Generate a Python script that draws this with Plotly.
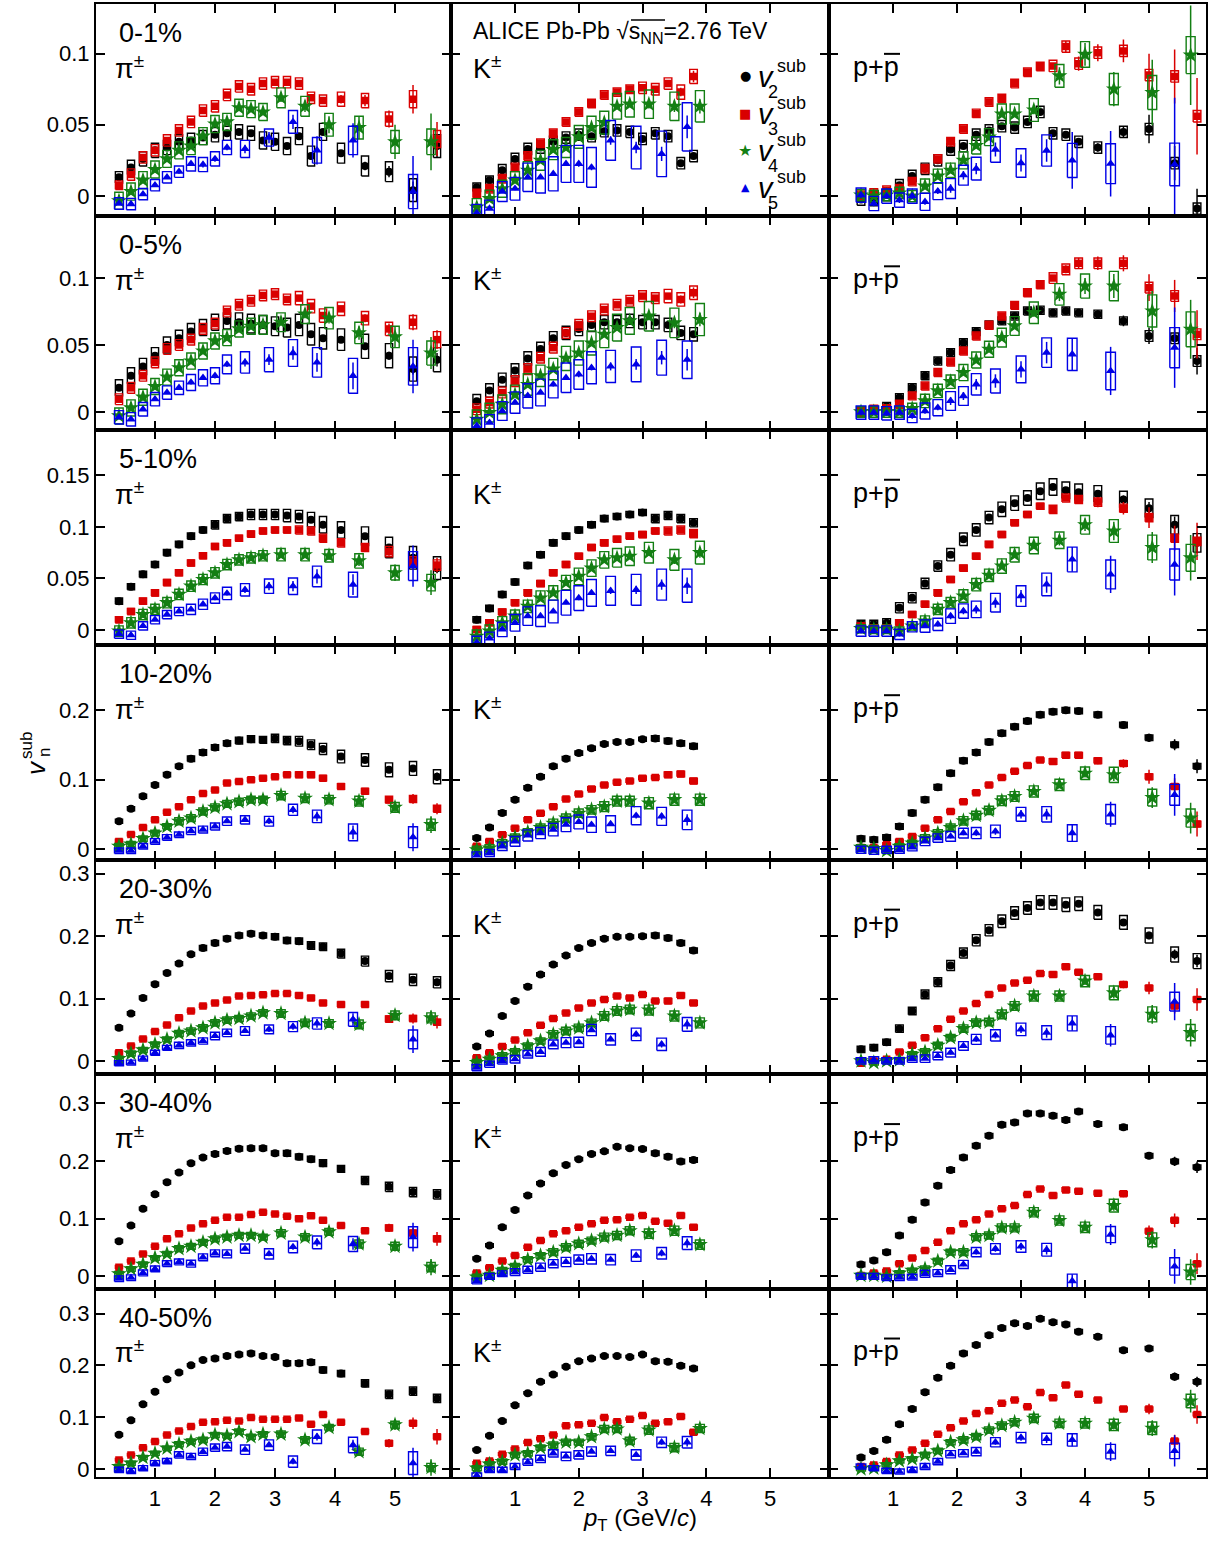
import plotly.graph_objects as go

# ============================ data ============================
CENTRALITY = ["0-1%", "0-5%", "5-10%", "10-20%", "20-30%", "30-40%", "40-50%"]
HARMONICS = [2, 3, 4, 5]
X_TICKS = [1, 2, 3, 4, 5]
X_TICK_TEXT = ["1", "2", "3", "4", "5"]
Y_TICKS = [[0, 0.05, 0.1], [0, 0.05, 0.1], [0, 0.05, 0.1, 0.15], [0, 0.1, 0.2],
           [0, 0.1, 0.2, 0.3], [0, 0.1, 0.2, 0.3], [0, 0.1, 0.2, 0.3]]
Y_TICK_TEXT = [["0", "0.05", "0.1"], ["0", "0.05", "0.1"], ["0", "0.05", "0.1", "0.15"],
               ["0", "0.1", "0.2"], ["0", "0.1", "0.2", "0.3"], ["0", "0.1", "0.2", "0.3"],
               ["0", "0.1", "0.2", "0.3"]]

# pT bin centres (GeV/c)
PT_PI = [0.4, 0.6, 0.8, 1.0, 1.2, 1.4, 1.6, 1.8, 2.0, 2.2, 2.4, 2.6, 2.8, 3.0, 3.2, 3.4, 3.6, 3.8, 4.1, 4.5, 4.9, 5.3, 5.7]
PT_PI_V4 = [0.4, 0.6, 0.8, 1.0, 1.2, 1.4, 1.6, 1.8, 2.0, 2.2, 2.4, 2.6, 2.8, 3.1, 3.5, 3.9, 4.4, 5.0, 5.6]
PT_PI_V5 = [0.4, 0.6, 0.8, 1.0, 1.2, 1.4, 1.6, 1.8, 2.0, 2.2, 2.5, 2.9, 3.3, 3.7, 4.3, 5.3]
PT_K = [0.4, 0.6, 0.8, 1.0, 1.2, 1.4, 1.6, 1.8, 2.0, 2.2, 2.4, 2.6, 2.8, 3.0, 3.2, 3.4, 3.6, 3.8]
PT_K_V4 = [0.4, 0.6, 0.8, 1.0, 1.2, 1.4, 1.6, 1.8, 2.0, 2.2, 2.4, 2.6, 2.8, 3.1, 3.5, 3.9]
PT_K_V5 = [0.4, 0.6, 0.8, 1.0, 1.2, 1.4, 1.6, 1.8, 2.0, 2.2, 2.5, 2.9, 3.3, 3.7]
PT_P = [0.5, 0.7, 0.9, 1.1, 1.3, 1.5, 1.7, 1.9, 2.1, 2.3, 2.5, 2.7, 2.9, 3.1, 3.3, 3.5, 3.7, 3.9, 4.2, 4.6, 5.0, 5.4, 5.75]
PT_P_V4 = [0.5, 0.7, 0.9, 1.1, 1.3, 1.5, 1.7, 1.9, 2.1, 2.3, 2.5, 2.7, 2.9, 3.2, 3.6, 4.0, 4.45, 5.05, 5.65]
PT_P_V5 = [0.5, 0.7, 0.9, 1.1, 1.3, 1.5, 1.7, 1.9, 2.1, 2.3, 2.6, 3.0, 3.4, 3.8, 4.4, 5.4]

# ---- pions: one list per centrality class (rows 0-1% ... 40-50%)
PI_V2 = [
    [0.013, 0.020, 0.026, 0.032, 0.034, 0.038, 0.039, 0.041, 0.043, 0.044, 0.045, 0.044, 0.039, 0.038, 0.035, 0.042, 0.028, 0.045, 0.030, 0.021, 0.017, 0.004, 0.035],
    [0.018, 0.027, 0.034, 0.042, 0.050, 0.055, 0.060, 0.063, 0.067, 0.068, 0.067, 0.066, 0.065, 0.064, 0.063, 0.065, 0.058, 0.055, 0.054, 0.049, 0.042, 0.032, 0.039],
    [0.028, 0.042, 0.054, 0.0635, 0.075, 0.083, 0.091, 0.097, 0.102, 0.108, 0.110, 0.112, 0.112, 0.112, 0.111, 0.110, 0.107, 0.102, 0.097, 0.091, 0.080, 0.070, 0.060],
    [0.040, 0.058, 0.076, 0.092, 0.107, 0.119, 0.130, 0.139, 0.146, 0.152, 0.156, 0.158, 0.157, 0.159, 0.156, 0.155, 0.150, 0.144, 0.133, 0.128, 0.114, 0.116, 0.104],
    [0.053, 0.076, 0.101, 0.123, 0.141, 0.156, 0.171, 0.181, 0.189, 0.196, 0.201, 0.204, 0.201, 0.199, 0.193, 0.192, 0.185, 0.183, 0.172, 0.160, 0.136, 0.130, 0.126],
    [0.061, 0.088, 0.117, 0.142, 0.163, 0.180, 0.196, 0.206, 0.212, 0.217, 0.221, 0.222, 0.222, 0.213, 0.213, 0.207, 0.203, 0.196, 0.186, 0.166, 0.155, 0.146, 0.142],
    [0.066, 0.094, 0.125, 0.149, 0.173, 0.186, 0.200, 0.210, 0.213, 0.218, 0.221, 0.223, 0.218, 0.216, 0.204, 0.204, 0.206, 0.191, 0.184, 0.165, 0.144, 0.150, 0.136],
]
PI_V3 = [
    [0.0075, 0.015, 0.027, 0.032, 0.039, 0.046, 0.052, 0.060, 0.063, 0.071, 0.077, 0.075, 0.079, 0.080, 0.080, 0.079, 0.069, 0.067, 0.068, 0.067, 0.054, 0.068, 0.040],
    [0.0095, 0.018, 0.027, 0.037, 0.047, 0.050, 0.054, 0.062, 0.066, 0.075, 0.080, 0.083, 0.087, 0.088, 0.084, 0.085, 0.079, 0.072, 0.077, 0.070, 0.062, 0.067, 0.054],
    [0.010, 0.018, 0.028, 0.036, 0.046, 0.0555, 0.065, 0.072, 0.081, 0.0845, 0.089, 0.093, 0.096, 0.097, 0.097, 0.097, 0.096, 0.089, 0.0845, 0.080, 0.076, 0.066, 0.063],
    [0.011, 0.021, 0.031, 0.042, 0.053, 0.061, 0.071, 0.080, 0.085, 0.095, 0.097, 0.0995, 0.102, 0.104, 0.107, 0.107, 0.107, 0.102, 0.090, 0.083, 0.071, 0.072, 0.058],
    [0.013, 0.024, 0.035, 0.047, 0.0575, 0.069, 0.080, 0.088, 0.093, 0.0975, 0.104, 0.105, 0.106, 0.108, 0.108, 0.105, 0.101, 0.093, 0.0905, 0.0905, 0.067, 0.068, 0.062],
    [0.016, 0.0265, 0.039, 0.052, 0.065, 0.074, 0.084, 0.091, 0.097, 0.1025, 0.1025, 0.107, 0.111, 0.108, 0.104, 0.100, 0.105, 0.097, 0.088, 0.079, 0.084, 0.075, 0.065],
    [0.017, 0.027, 0.041, 0.053, 0.0655, 0.073, 0.082, 0.090, 0.091, 0.094, 0.0925, 0.099, 0.096, 0.096, 0.096, 0.098, 0.086, 0.105, 0.090, 0.072, 0.0495, 0.088, 0.062],
]
PI_V4 = [
    [-0.0035, 0.003, 0.011, 0.0185, 0.026, 0.032, 0.035, 0.042, 0.0505, 0.052, 0.062, 0.061, 0.059, 0.069, 0.063, 0.050, 0.048, 0.038, 0.038],
    [-0.003, 0.003, 0.011, 0.019, 0.026, 0.033, 0.038, 0.0455, 0.053, 0.0555, 0.062, 0.064, 0.065, 0.067, 0.073, 0.070, 0.059, 0.056, 0.044],
    [-0.001, 0.007, 0.015, 0.020, 0.0265, 0.0345, 0.0425, 0.049, 0.0555, 0.0635, 0.068, 0.070, 0.072, 0.073, 0.073, 0.072, 0.067, 0.0555, 0.046],
    [0.004, 0.007, 0.015, 0.023, 0.0325, 0.040, 0.0445, 0.054, 0.060, 0.065, 0.068, 0.071, 0.071, 0.077, 0.073, 0.071, 0.069, 0.060, 0.035],
    [0.0037, 0.012, 0.0176, 0.0266, 0.0346, 0.044, 0.048, 0.053, 0.061, 0.0655, 0.068, 0.072, 0.077, 0.076, 0.061, 0.060, 0.0586, 0.073, 0.069],
    [0.0046, 0.013, 0.021, 0.032, 0.039, 0.048, 0.052, 0.059, 0.065, 0.068, 0.071, 0.071, 0.068, 0.075, 0.068, 0.077, 0.056, 0.052, 0.016],
    [0.0045, 0.011, 0.022, 0.030, 0.040, 0.0475, 0.053, 0.056, 0.0655, 0.064, 0.072, 0.062, 0.067, 0.067, 0.056, 0.080, 0.033, 0.085, 0.0026],
]
PI_V5 = [
    [-0.0054, -0.0058, 0.0012, 0.0075, 0.013, 0.017, 0.0225, 0.022, 0.026, 0.034, 0.033, 0.041, 0.052, 0.032, 0.039, 0.003],
    [-0.004, -0.0055, 0.002, 0.0095, 0.0145, 0.018, 0.022, 0.0255, 0.027, 0.0355, 0.037, 0.039, 0.044, 0.037, 0.027, 0.034],
    [-0.004, -0.005, 0.004, 0.010, 0.015, 0.018, 0.020, 0.025, 0.031, 0.0355, 0.039, 0.0425, 0.0425, 0.052, 0.044, 0.062],
    [-0.0024, -0.0024, 0.004, 0.011, 0.0167, 0.0206, 0.026, 0.028, 0.0325, 0.040, 0.042, 0.040, 0.0565, 0.047, 0.024, 0.017],
    [-0.0037, -0.0027, 0.0037, 0.013, 0.021, 0.025, 0.029, 0.032, 0.040, 0.045, 0.048, 0.0505, 0.055, 0.060, 0.0665, 0.0346],
    [-0.004, -0.0023, 0.006, 0.013, 0.022, 0.025, 0.022, 0.033, 0.040, 0.039, 0.048, 0.039, 0.051, 0.059, 0.056, 0.068],
    [-0.002, -0.004, 0.0013, 0.011, 0.015, 0.027, 0.024, 0.033, 0.041, 0.043, 0.037, 0.046, 0.014, 0.062, 0.046, 0.011],
]
PI_V2_STAT_A = [.0005, .0005, .0005, .0005, .0005, .0005, .0005, .0005, .0005, .0005, .001, .001, .001, .001, .001, .0015, .0015, .002, .002, .003, .004, .006, .008]
PI_V2_STAT_B = [.0005, .0005, .0005, .0005, .0005, .0005, .0005, .0005, .0005, .0005, .0005, .0005, .001, .001, .001, .001, .001, .0015, .0015, .002, .003, .004, .005]
PI_V2_STAT_C = [.0005, .0005, .0005, .0005, .0005, .0005, .0005, .0005, .0005, .0005, .0005, .0005, .001, .001, .001, .001, .0015, .0015, .002, .003, .004, .005, .006]
PI_V2_STAT = [PI_V2_STAT_A, PI_V2_STAT_B, PI_V2_STAT_B, PI_V2_STAT_C, PI_V2_STAT_C, PI_V2_STAT_C, PI_V2_STAT_C]
PI_V2_SYS = [
    [.004, .005, .005, .005, .005, .005, .005, .005, .005, .005, .005, .005, .006, .006, .006, .006, .007, .006, .007, .007, .007, .008, .008],
    [.006, .006, .006, .006, .006, .006, .006, .006, .006, .006, .007, .007, .007, .007, .007, .008, .008, .008, .008, .009, .009, .009, .009],
    [.003, .003, .003, .003, .003, .003, .003, .003, .004, .004, .004, .005, .005, .005, .006, .006, .007, .008, .008, .009, .010, .011, .011],
    [.003, .003, .003, .003, .003, .003, .004, .004, .004, .004, .005, .005, .005, .006, .006, .007, .007, .008, .009, .009, .010, .010, .010],
    [.003, .003, .003, .003, .003, .003, .003, .004, .004, .004, .004, .004, .004, .005, .005, .005, .006, .006, .007, .008, .009, .009, .009],
    [.003, .003, .003, .003, .003, .003, .003, .003, .004, .004, .004, .004, .004, .004, .005, .005, .005, .006, .006, .007, .008, .008, .008],
    [.003, .003, .003, .003, .003, .003, .003, .003, .004, .004, .004, .004, .004, .004, .005, .005, .005, .006, .006, .007, .008, .008, .008],
]
PI_V3_STAT = [
    [.0005, .0005, .0005, .0005, .0005, .0005, .0005, .001, .001, .001, .001, .001, .001, .0015, .0015, .002, .002, .002, .003, .004, .006, .010, .012],
    [.0005, .0005, .0005, .0005, .0005, .0005, .0005, .0005, .001, .001, .001, .001, .001, .001, .0015, .0015, .002, .002, .002, .003, .004, .006, .007],
    [.0005, .0005, .0005, .0005, .0005, .0005, .0005, .0005, .001, .001, .001, .001, .001, .001, .0015, .0015, .002, .002, .002, .003, .004, .006, .007],
    [.0005, .0005, .0005, .0005, .0005, .0005, .0005, .001, .001, .001, .001, .001, .001, .0015, .0015, .002, .002, .002, .003, .004, .005, .007, .008],
    [.0005, .0005, .0005, .0005, .0005, .0005, .0005, .001, .001, .001, .001, .001, .001, .0015, .0015, .002, .002, .002, .003, .004, .006, .008, .010],
    [.0005, .0005, .0005, .0005, .0005, .0005, .0005, .001, .001, .001, .001, .001, .001, .0015, .0015, .002, .002, .002, .003, .005, .007, .009, .012],
    [.0005, .0005, .0005, .0005, .0005, .0005, .0005, .001, .001, .001, .001, .001, .001, .0015, .0015, .002, .002, .002, .004, .006, .008, .011, .015],
]
PI_V3_SYS_A = [.003, .004, .004, .004, .004, .004, .004, .004, .004, .004, .004, .004, .004, .004, .004, .004, .004, .004, .005, .005, .005, .006, .006]
PI_V3_SYS_B = [.004, .004, .004, .004, .004, .004, .004, .004, .004, .004, .004, .004, .004, .004, .004, .005, .005, .005, .005, .005, .005, .005, .006]
PI_V3_SYS_C = [.003, .003, .003, .003, .003, .003, .003, .003, .003, .003, .003, .003, .003, .003, .003, .004, .004, .004, .004, .004, .005, .005, .005]
PI_V3_SYS = [PI_V3_SYS_A, PI_V3_SYS_B, PI_V3_SYS_C, PI_V3_SYS_C, PI_V3_SYS_C, PI_V3_SYS_C, PI_V3_SYS_C]
PI_V4_STAT = [
    [.001, .001, .001, .001, .001, .001, .001, .001, .001, .0015, .0015, .002, .002, .003, .004, .006, .008, .012, .020],
    [.0005, .0005, .0005, .0005, .0005, .001, .001, .001, .001, .001, .001, .0015, .0015, .002, .003, .004, .005, .008, .012],
    [.0005, .0005, .0005, .0005, .0005, .001, .001, .001, .001, .001, .001, .0015, .0015, .002, .003, .004, .005, .008, .012],
    [.0005, .0005, .0005, .0005, .0005, .001, .001, .001, .001, .001, .001, .0015, .0015, .002, .003, .004, .006, .008, .012],
    [.0005, .0005, .0005, .0005, .0005, .001, .001, .001, .001, .001, .001, .0015, .0015, .002, .003, .004, .006, .008, .012],
    [.0005, .0005, .0005, .0005, .0005, .001, .001, .001, .001, .001, .001, .0015, .0015, .002, .003, .005, .006, .009, .014],
    [.0005, .0005, .0005, .0005, .0005, .001, .001, .001, .001, .001, .001, .0015, .002, .003, .004, .005, .008, .010, .016],
]
PI_V4_SYS = [
    [.006, .006, .006, .006, .006, .006, .006, .006, .006, .006, .006, .006, .006, .007, .007, .008, .008, .008, .009],
    [.006, .006, .006, .006, .006, .006, .006, .006, .006, .006, .006, .006, .007, .007, .007, .008, .008, .008, .009],
    [.005, .005, .005, .005, .005, .005, .005, .005, .005, .005, .005, .005, .005, .006, .006, .006, .007, .007, .008],
    [.004, .004, .004, .004, .004, .005, .005, .005, .005, .005, .005, .005, .005, .006, .006, .006, .007, .007, .008],
    [.004, .004, .004, .004, .004, .005, .005, .005, .005, .005, .005, .005, .005, .006, .006, .006, .007, .007, .008],
    [.004, .004, .004, .004, .004, .005, .005, .005, .005, .005, .005, .005, .005, .006, .006, .006, .007, .007, .008],
    [.004, .004, .004, .004, .004, .005, .005, .005, .005, .005, .005, .005, .005, .006, .006, .006, .007, .007, .008],
]
PI_V5_STAT = [
    [.001, .001, .001, .001, .001, .0015, .0015, .002, .002, .002, .003, .004, .005, .010, .012, .025],
    [.001, .001, .001, .001, .001, .001, .0015, .0015, .002, .002, .003, .004, .005, .007, .010, .020],
    [.001, .001, .001, .001, .001, .001, .0015, .0015, .002, .002, .003, .004, .005, .007, .010, .020],
    [.001, .001, .001, .001, .001, .001, .0015, .0015, .002, .002, .003, .004, .005, .007, .010, .020],
    [.001, .001, .001, .001, .001, .001, .0015, .0015, .002, .002, .003, .004, .005, .007, .010, .022],
    [.001, .001, .001, .001, .001, .001, .0015, .0015, .002, .002, .003, .004, .005, .007, .010, .025],
    [.001, .001, .001, .001, .001, .001, .0015, .0015, .002, .002, .003, .004, .005, .007, .010, .030],
]
PI_V5_SYS = [
    [.004, .004, .004, .004, .004, .004, .005, .005, .005, .005, .006, .006, .008, .009, .010, .012],
    [.005, .005, .005, .005, .005, .005, .006, .006, .006, .007, .008, .009, .010, .011, .013, .014],
    [.004, .004, .004, .004, .004, .004, .005, .005, .005, .006, .006, .007, .008, .010, .012, .014],
    [.004, .004, .004, .004, .004, .004, .005, .005, .005, .006, .006, .007, .008, .009, .012, .015],
    [.004, .004, .004, .004, .004, .005, .005, .005, .006, .006, .007, .007, .008, .009, .011, .015],
    [.005, .005, .005, .005, .005, .005, .006, .006, .006, .007, .008, .009, .010, .011, .013, .018],
    [.005, .005, .005, .005, .005, .006, .006, .007, .007, .008, .009, .010, .011, .013, .015, .022],
]

# ---- kaons
K_V2 = [
    [0.006, 0.011, 0.018, 0.026, 0.033, 0.034, 0.038, 0.041, 0.043, 0.042, 0.0455, 0.046, 0.045, 0.040, 0.044, 0.042, 0.023, 0.028],
    [0.008, 0.016, 0.024, 0.031, 0.040, 0.047, 0.055, 0.059, 0.062, 0.065, 0.067, 0.067, 0.068, 0.067, 0.067, 0.065, 0.059, 0.058],
    [0.010, 0.021, 0.0345, 0.0465, 0.0625, 0.073, 0.0845, 0.091, 0.097, 0.102, 0.108, 0.110, 0.112, 0.114, 0.108, 0.111, 0.108, 0.104],
    [0.016, 0.031, 0.052, 0.071, 0.088, 0.104, 0.119, 0.130, 0.138, 0.145, 0.151, 0.154, 0.154, 0.158, 0.159, 0.1555, 0.152, 0.148],
    [0.023, 0.044, 0.072, 0.096, 0.119, 0.1385, 0.1545, 0.169, 0.181, 0.189, 0.196, 0.199, 0.199, 0.200, 0.201, 0.197, 0.189, 0.177],
    [0.0305, 0.0535, 0.085, 0.115, 0.140, 0.161, 0.1785, 0.193, 0.203, 0.212, 0.2165, 0.2245, 0.222, 0.2205, 0.213, 0.207, 0.199, 0.2015],
    [0.0366, 0.064, 0.0925, 0.123, 0.146, 0.168, 0.182, 0.197, 0.208, 0.213, 0.218, 0.218, 0.216, 0.221, 0.208, 0.207, 0.199, 0.194],
]
K_V3 = [
    [0.0016, 0.005, 0.012, 0.020, 0.028, 0.037, 0.044, 0.052, 0.059, 0.065, 0.071, 0.073, 0.075, 0.076, 0.075, 0.079, 0.073, 0.084],
    [0.002, 0.007, 0.0145, 0.023, 0.032, 0.0405, 0.048, 0.059, 0.065, 0.0715, 0.0765, 0.080, 0.083, 0.0865, 0.085, 0.0865, 0.084, 0.089],
    [0.0006, 0.007, 0.0175, 0.0265, 0.036, 0.045, 0.0555, 0.0635, 0.0715, 0.080, 0.0845, 0.088, 0.091, 0.0925, 0.096, 0.096, 0.097, 0.0935],
    [0.004, 0.011, 0.0205, 0.030, 0.042, 0.0515, 0.061, 0.072, 0.079, 0.0865, 0.092, 0.096, 0.098, 0.102, 0.103, 0.107, 0.108, 0.098],
    [0.005, 0.013, 0.023, 0.0335, 0.045, 0.057, 0.068, 0.077, 0.085, 0.093, 0.0985, 0.104, 0.101, 0.1065, 0.096, 0.096, 0.105, 0.093],
    [0.006, 0.015, 0.0265, 0.036, 0.0505, 0.062, 0.074, 0.079, 0.085, 0.091, 0.097, 0.098, 0.1025, 0.1055, 0.0955, 0.092, 0.1055, 0.085],
    [0.011, 0.015, 0.028, 0.0385, 0.051, 0.058, 0.0655, 0.0835, 0.085, 0.088, 0.099, 0.091, 0.096, 0.103, 0.088, 0.091, 0.101, 0.0705],
]
K_V4 = [
    [-0.008, -0.002, 0.005, 0.011, 0.018, 0.025, 0.0325, 0.034, 0.0415, 0.048, 0.0515, 0.063, 0.0645, 0.0645, 0.063, 0.063],
    [-0.0055, -0.0005, 0.0057, 0.013, 0.0205, 0.027, 0.032, 0.040, 0.044, 0.0515, 0.058, 0.063, 0.068, 0.0715, 0.0665, 0.069],
    [-0.006, -0.001, 0.007, 0.0135, 0.023, 0.031, 0.036, 0.046, 0.052, 0.060, 0.068, 0.070, 0.0715, 0.075, 0.068, 0.075],
    [-0.001, 0.0014, 0.0086, 0.0167, 0.0244, 0.031, 0.037, 0.0445, 0.0515, 0.0565, 0.061, 0.069, 0.069, 0.066, 0.071, 0.071],
    [-0.0027, 0.0027, 0.008, 0.0144, 0.024, 0.032, 0.0425, 0.048, 0.053, 0.061, 0.072, 0.080, 0.0825, 0.0815, 0.072, 0.061],
    [-0.0012, 0.0017, 0.0104, 0.0173, 0.029, 0.036, 0.042, 0.0505, 0.0565, 0.062, 0.068, 0.071, 0.079, 0.074, 0.079, 0.055],
    [0.0013, 0.009, 0.014, 0.027, 0.030, 0.041, 0.046, 0.0515, 0.0515, 0.062, 0.077, 0.077, 0.054, 0.075, 0.041, 0.078],
]
K_V5 = [
    [-0.012, -0.009, 0.003, 0.005, 0.013, 0.013, 0.0155, 0.0225, 0.0225, 0.020, 0.039, 0.034, 0.0295, 0.0485],
    [-0.0104, -0.008, 0.0007, 0.007, 0.012, 0.0145, 0.0205, 0.0255, 0.028, 0.033, 0.034, 0.0355, 0.0405, 0.039],
    [-0.012, -0.008, 0.0006, 0.007, 0.0135, 0.0135, 0.018, 0.0265, 0.031, 0.036, 0.038, 0.039, 0.044, 0.043],
    [-0.009, -0.0057, 0.004, 0.011, 0.0196, 0.023, 0.028, 0.035, 0.039, 0.035, 0.036, 0.048, 0.047, 0.042],
    [-0.0107, -0.0053, 0.0, 0.0027, 0.0107, 0.0144, 0.0266, 0.0293, 0.030, 0.0495, 0.0346, 0.0426, 0.0266, 0.0586],
    [-0.008, 0.0, 0.0046, 0.0075, 0.0115, 0.016, 0.022, 0.025, 0.029, 0.0305, 0.029, 0.036, 0.040, 0.0576],
    [-0.0128, -0.002, -0.002, 0.0045, 0.0128, 0.0193, 0.030, 0.024, 0.027, 0.0334, 0.0347, 0.027, 0.0514, 0.0514],
]
K_V2_STAT_A = [.0005, .0005, .0005, .0005, .0005, .0005, .0005, .0005, .0005, .0005, .0005, .0005, .001, .001, .001, .0015, .002, .002]
K_V2_STAT = [K_V2_STAT_A] * 7
K_V2_SYS_A = [.003, .003, .004, .004, .004, .004, .004, .004, .004, .004, .004, .004, .004, .004, .004, .004, .004, .004]
K_V2_SYS_B = [.005, .005, .005, .005, .005, .005, .005, .005, .005, .005, .005, .005, .005, .005, .005, .005, .005, .005]
K_V2_SYS_C = [.003, .003, .003, .003, .003, .003, .003, .003, .003, .003, .003, .003, .003, .003, .004, .004, .004, .004]
K_V2_SYS = [K_V2_SYS_A, K_V2_SYS_B, K_V2_SYS_C, K_V2_SYS_C, K_V2_SYS_C, K_V2_SYS_C, K_V2_SYS_C]
K_V3_STAT_A = [.0005, .0005, .0005, .0005, .0005, .0005, .0005, .0005, .0005, .0005, .0005, .0005, .001, .001, .0015, .002, .003, .004]
K_V3_STAT = [K_V3_STAT_A] * 7
K_V3_SYS_A = [.003, .003, .003, .003, .003, .003, .003, .003, .003, .003, .003, .003, .003, .004, .004, .004, .005, .005]
K_V3_SYS_B = [.004, .004, .004, .004, .004, .004, .004, .004, .004, .004, .004, .004, .004, .004, .004, .005, .005, .005]
K_V3_SYS_C = [.003, .003, .003, .003, .003, .003, .003, .003, .003, .003, .003, .003, .003, .003, .003, .004, .004, .004]
K_V3_SYS = [K_V3_SYS_A, K_V3_SYS_B, K_V3_SYS_C, K_V3_SYS_C, K_V3_SYS_C, K_V3_SYS_C, K_V3_SYS_C]
K_V4_STAT_A = [.001, .001, .001, .001, .001, .001, .001, .001, .001, .001, .0015, .0015, .002, .003, .004, .005]
K_V4_STAT = [K_V4_STAT_A] * 7
K_V4_SYS = [
    [.006, .006, .006, .006, .006, .007, .007, .007, .008, .008, .008, .009, .009, .010, .010, .011],
    [.007, .007, .007, .007, .008, .008, .008, .009, .009, .009, .010, .010, .010, .011, .011, .012],
    [.006, .006, .006, .006, .006, .007, .007, .007, .008, .008, .008, .009, .009, .010, .010, .011],
    [.005, .005, .005, .005, .005, .005, .006, .006, .006, .006, .007, .007, .007, .008, .008, .008],
    [.005, .005, .005, .005, .005, .005, .006, .006, .006, .006, .007, .007, .007, .008, .008, .008],
    [.005, .005, .005, .005, .005, .005, .006, .006, .006, .006, .007, .007, .007, .008, .008, .008],
    [.005, .005, .005, .005, .005, .005, .006, .006, .006, .006, .007, .007, .007, .008, .008, .008],
]
K_V5_STAT_A = [.001, .001, .001, .001, .001, .001, .0015, .0015, .002, .002, .003, .004, .005, .008]
K_V5_STAT = [K_V5_STAT_A] * 7
K_V5_SYS = [
    [.006, .006, .007, .008, .010, .011, .012, .013, .013, .014, .014, .015, .016, .017],
    [.006, .006, .007, .008, .009, .010, .010, .011, .011, .012, .012, .013, .013, .014],
    [.006, .006, .007, .008, .009, .010, .011, .012, .012, .013, .014, .015, .015, .016],
    [.005, .005, .006, .007, .008, .008, .009, .010, .010, .011, .012, .013, .013, .014],
    [.005, .005, .005, .006, .006, .007, .007, .008, .008, .009, .009, .010, .010, .011],
    [.005, .005, .005, .006, .006, .007, .007, .008, .008, .009, .009, .010, .010, .011],
    [.005, .005, .005, .006, .006, .007, .007, .008, .008, .009, .009, .010, .010, .011],
]

# ---- protons
P_V2 = [
    [-0.0026, -0.003, 0.0005, 0.0075, 0.014, 0.019, 0.025, 0.0326, 0.035, 0.043, 0.046, 0.049, 0.048, 0.052, 0.059, 0.044, 0.043, 0.038, 0.034, 0.045, 0.047, 0.023, -0.009],
    [0.0, 0.0015, 0.004, 0.0107, 0.018, 0.027, 0.038, 0.0443, 0.0517, 0.060, 0.065, 0.068, 0.0716, 0.0754, 0.076, 0.074, 0.0754, 0.074, 0.073, 0.068, 0.0567, 0.055, 0.038],
    [0.0055, 0.0055, 0.0071, 0.0216, 0.0313, 0.0452, 0.062, 0.073, 0.088, 0.097, 0.109, 0.117, 0.123, 0.128, 0.1345, 0.1387, 0.1355, 0.1335, 0.132, 0.1265, 0.118, 0.102, 0.0845],
    [0.0148, 0.0134, 0.0167, 0.0325, 0.0517, 0.071, 0.089, 0.109, 0.127, 0.139, 0.154, 0.1665, 0.176, 0.184, 0.193, 0.1976, 0.1995, 0.1986, 0.193, 0.1785, 0.160, 0.150, 0.119],
    [0.0186, 0.0213, 0.030, 0.0517, 0.080, 0.1066, 0.1263, 0.153, 0.173, 0.1934, 0.2094, 0.2238, 0.237, 0.245, 0.254, 0.254, 0.2504, 0.252, 0.238, 0.222, 0.201, 0.1705, 0.160],
    [0.0207, 0.0276, 0.042, 0.0708, 0.098, 0.128, 0.157, 0.184, 0.206, 0.226, 0.2435, 0.2625, 0.2666, 0.282, 0.282, 0.278, 0.2706, 0.2855, 0.2637, 0.258, 0.209, 0.199, 0.189],
    [0.0218, 0.0347, 0.056, 0.086, 0.1156, 0.148, 0.176, 0.199, 0.223, 0.239, 0.258, 0.272, 0.281, 0.276, 0.290, 0.283, 0.279, 0.265, 0.255, 0.229, 0.2325, 0.178, 0.168],
]
P_V3 = [
    [0.0005, 0.002, 0.004, 0.005, 0.010, 0.019, 0.026, 0.038, 0.047, 0.058, 0.066, 0.0685, 0.079, 0.087, 0.091, 0.0914, 0.105, 0.093, 0.1007, 0.102, 0.085, 0.084, 0.056],
    [0.0, 0.002, 0.0025, 0.0057, 0.012, 0.0194, 0.0294, 0.0373, 0.0455, 0.0567, 0.0647, 0.0716, 0.0796, 0.089, 0.095, 0.100, 0.1065, 0.111, 0.111, 0.111, 0.0928, 0.0866, 0.058],
    [0.0039, 0.0023, 0.0023, 0.0071, 0.015, 0.025, 0.036, 0.049, 0.060, 0.0716, 0.083, 0.0926, 0.104, 0.112, 0.120, 0.117, 0.128, 0.1265, 0.124, 0.118, 0.109, 0.089, 0.086],
    [0.0024, 0.0024, 0.0062, 0.011, 0.018, 0.030, 0.042, 0.054, 0.068, 0.081, 0.092, 0.103, 0.112, 0.120, 0.128, 0.126, 0.135, 0.135, 0.127, 0.123, 0.104, 0.090, 0.036],
    [-0.0037, 0.0, 0.0027, 0.0144, 0.025, 0.0373, 0.0517, 0.0666, 0.080, 0.092, 0.1066, 0.117, 0.125, 0.1295, 0.140, 0.1385, 0.151, 0.142, 0.135, 0.1225, 0.117, 0.088, 0.0986],
    [0.0017, 0.0058, 0.0092, 0.022, 0.032, 0.045, 0.059, 0.079, 0.091, 0.098, 0.108, 0.117, 0.1226, 0.1416, 0.1514, 0.140, 0.1497, 0.1474, 0.144, 0.143, 0.078, 0.097, 0.022],
    [0.0045, 0.0077, 0.014, 0.027, 0.0366, 0.0495, 0.0668, 0.0796, 0.0925, 0.107, 0.112, 0.1265, 0.133, 0.120, 0.1477, 0.1374, 0.162, 0.144, 0.133, 0.1156, 0.1156, 0.054, 0.105],
]
P_V4 = [
    [0.0005, -0.0002, 0.0005, 0.002, -0.0002, 0.0068, 0.0138, 0.018, 0.025, 0.0354, 0.0413, 0.0576, 0.0576, 0.0604, 0.0844, 0.0995, 0.0751, 0.0727, 0.099],
    [0.0, 0.0, 0.0, 0.0, 0.0025, 0.0082, 0.0157, 0.0226, 0.0294, 0.0388, 0.0468, 0.0555, 0.0642, 0.0741, 0.0878, 0.094, 0.094, 0.0754, 0.0617],
    [0.0013, 0.0006, 0.0006, -0.001, 0.0039, 0.0087, 0.020, 0.0265, 0.033, 0.044, 0.053, 0.062, 0.073, 0.082, 0.087, 0.102, 0.096, 0.080, 0.070],
    [0.0024, 0.0005, -0.0024, 0.0038, 0.0086, 0.0158, 0.023, 0.031, 0.0407, 0.0483, 0.0555, 0.0694, 0.0756, 0.0828, 0.0923, 0.109, 0.1067, 0.074, 0.0445],
    [0.0, -0.0027, 0.0, 0.0016, 0.0107, 0.0144, 0.025, 0.0373, 0.0517, 0.0613, 0.0623, 0.0746, 0.088, 0.104, 0.104, 0.128, 0.109, 0.0746, 0.0453],
    [0.0017, 0.0017, 0.0, 0.0058, 0.0104, 0.0132, 0.0265, 0.042, 0.042, 0.068, 0.0708, 0.084, 0.084, 0.111, 0.0967, 0.085, 0.1226, 0.0633, 0.0075],
    [0.0, 0.0013, 0.0077, 0.0154, 0.0193, 0.027, 0.0347, 0.0514, 0.0559, 0.0623, 0.0751, 0.0835, 0.090, 0.0976, 0.088, 0.088, 0.0848, 0.0784, 0.131],
]
P_V5 = [
    [0.0005, -0.0054, -0.0002, -0.003, -0.0002, -0.0042, 0.0033, 0.0051, 0.0145, 0.0191, 0.0326, 0.0231, 0.0319, 0.0249, 0.0226, 0.0221],
    [-0.0005, -0.0005, -0.001, -0.0005, -0.003, 0.0007, 0.0032, 0.0082, 0.0119, 0.0206, 0.0231, 0.0318, 0.0443, 0.043, 0.0306, 0.048],
    [-0.001, -0.001, -0.001, -0.0042, 0.0032, 0.0039, 0.0055, 0.0135, 0.0184, 0.020, 0.0265, 0.0329, 0.0442, 0.0684, 0.0539, 0.0635],
    [-0.001, -0.0024, -0.001, -0.001, 0.0024, 0.011, 0.0158, 0.0182, 0.023, 0.023, 0.0254, 0.050, 0.050, 0.023, 0.050, 0.078],
    [0.0, 0.0016, 0.0, 0.0, 0.0027, 0.0037, 0.008, 0.0133, 0.024, 0.0346, 0.041, 0.0506, 0.0453, 0.0602, 0.041, 0.095],
    [0.0, 0.0, -0.0023, -0.0023, -0.0012, 0.0046, 0.0058, 0.0115, 0.0207, 0.042, 0.0478, 0.0518, 0.0461, -0.0081, 0.0725, 0.0173],
    [0.0045, 0.0013, -0.0039, -0.0051, -0.0019, 0.0045, 0.0141, 0.0283, 0.0302, 0.0334, 0.0514, 0.0604, 0.0578, 0.0559, 0.0334, 0.0347],
]
P_V2_STAT_A = [.0005, .0005, .0005, .0005, .0005, .0005, .0005, .0005, .0005, .0005, .0005, .0005, .001, .001, .001, .001, .0015, .002, .003, .004, .010, .012, .014]
P_V2_STAT_B = [.0005, .0005, .0005, .0005, .0005, .0005, .0005, .0005, .0005, .0005, .0005, .0005, .001, .001, .001, .001, .0015, .002, .003, .004, .006, .008, .010]
P_V2_STAT = [P_V2_STAT_A, P_V2_STAT_B, P_V2_STAT_B, P_V2_STAT_B, P_V2_STAT_B, P_V2_STAT_B, P_V2_STAT_B]
P_V2_SYS_A = [.004, .004, .004, .004, .004, .004, .004, .004, .004, .004, .004, .004, .004, .004, .004, .004, .004, .004, .004, .004, .004, .004, .004]
P_V2_SYS_B = [.003, .003, .003, .003, .003, .003, .003, .003, .003, .003, .003, .003, .003, .003, .003, .003, .003, .003, .003, .003, .004, .004, .004]
P_V2_SYS_C = [.004, .004, .004, .005, .005, .005, .005, .006, .006, .006, .006, .007, .007, .007, .008, .008, .008, .008, .008, .008, .009, .009, .009]
P_V2_SYS_D = [.005, .005, .005, .006, .006, .007, .007, .008, .008, .009, .009, .010, .010, .010, .011, .011, .011, .011, .011, .011, .012, .012, .012]
P_V2_SYS = [P_V2_SYS_A, P_V2_SYS_B, P_V2_SYS_C, P_V2_SYS_A, P_V2_SYS_D, P_V2_SYS_A, P_V2_SYS_A]
P_V3_STAT_A = [.0005, .0005, .0005, .0005, .0005, .0005, .0005, .0005, .0005, .0005, .0005, .001, .001, .001, .0015, .002, .004, .005, .006, .008, .015, .019, .027]
P_V3_STAT_B = [.0005, .0005, .0005, .0005, .0005, .0005, .0005, .0005, .0005, .0005, .0005, .001, .001, .001, .0015, .002, .003, .004, .005, .006, .010, .012, .018]
P_V3_STAT = [P_V3_STAT_A, P_V3_STAT_B, P_V3_STAT_B, P_V3_STAT_B, P_V3_STAT_B, P_V3_STAT_B, P_V3_STAT_B]
P_V3_SYS_A = [.003, .003, .003, .003, .003, .003, .003, .003, .003, .003, .003, .003, .003, .003, .003, .004, .004, .004, .004, .004, .004, .004, .004]
P_V3_SYS = [P_V3_SYS_A] * 7
P_V4_STAT_A = [.001, .001, .001, .001, .001, .001, .001, .001, .001, .001, .0015, .002, .002, .003, .006, .008, .012, .023, .035]
P_V4_STAT_B = [.001, .001, .001, .001, .001, .001, .001, .001, .001, .001, .0015, .002, .002, .003, .005, .006, .009, .015, .022]
P_V4_STAT = [P_V4_STAT_A, P_V4_STAT_B, P_V4_STAT_B, P_V4_STAT_B, P_V4_STAT_B, P_V4_STAT_B, P_V4_STAT_B]
P_V4_SYS_A = [.004, .004, .004, .004, .004, .005, .005, .005, .006, .006, .006, .007, .007, .008, .008, .009, .011, .012, .013]
P_V4_SYS = [P_V4_SYS_A] * 7
P_V5_STAT_A = [.002, .002, .002, .002, .002, .002, .002, .003, .003, .004, .005, .006, .008, .020, .023, .047]
P_V5_STAT_B = [.002, .002, .002, .002, .002, .002, .002, .003, .003, .004, .005, .006, .008, .012, .018, .030]
P_V5_STAT = [P_V5_STAT_A, P_V5_STAT_B, P_V5_STAT_B, P_V5_STAT_B, P_V5_STAT_B, P_V5_STAT_B, P_V5_STAT_B]
P_V5_SYS_A = [.005, .005, .005, .005, .005, .006, .006, .007, .007, .008, .009, .010, .011, .012, .014, .015]
P_V5_SYS = [P_V5_SYS_A] * 7

# ============================ layout / style ============================
W, H = 1214, 1544
FONT = "Liberation Sans, Arial, Helvetica, sans-serif"
COL_PX = [(96, 451), (451, 829), (829, 1206)]
ROW_PX = [(4, 217), (217, 431), (431, 647), (647, 862), (862, 1077), (1077, 1292), (1292, 1481)]
X_RANGE = [(0.017, 5.933), (-0.004, 5.925), (0.0, 5.89)]
Y_RANGE = [(-0.0145, 0.135), (-0.0134, 0.146), (-0.0148, 0.194), (-0.0154, 0.293),
           (-0.0213, 0.3224), (-0.0212, 0.350), (-0.016, 0.348)]
COLORS = {2: "#000000", 3: "#d90000", 4: "#137f13", 5: "#0000e6"}
SYMBOLS = {2: "circle", 3: "square", 4: "star", 5: "triangle-up"}
SIZES = {2: 8, 3: 7.5, 4: 12, 5: 8.5}
BOX_HW = {2: 0.06, 3: 0.06, 4: 0.07, 5: 0.075}

SERIES = [
    {2: (PT_PI, PI_V2, PI_V2_STAT, PI_V2_SYS), 3: (PT_PI, PI_V3, PI_V3_STAT, PI_V3_SYS),
     4: (PT_PI_V4, PI_V4, PI_V4_STAT, PI_V4_SYS), 5: (PT_PI_V5, PI_V5, PI_V5_STAT, PI_V5_SYS)},
    {2: (PT_K, K_V2, K_V2_STAT, K_V2_SYS), 3: (PT_K, K_V3, K_V3_STAT, K_V3_SYS),
     4: (PT_K_V4, K_V4, K_V4_STAT, K_V4_SYS), 5: (PT_K_V5, K_V5, K_V5_STAT, K_V5_SYS)},
    {2: (PT_P, P_V2, P_V2_STAT, P_V2_SYS), 3: (PT_P, P_V3, P_V3_STAT, P_V3_SYS),
     4: (PT_P_V4, P_V4, P_V4_STAT, P_V4_SYS), 5: (PT_P_V5, P_V5, P_V5_STAT, P_V5_SYS)},
]

AXIS = dict(showline=True, linecolor="black", linewidth=2, mirror="ticks", ticks="inside",
            ticklen=9, tickwidth=2, tickcolor="black", showgrid=False, zeroline=False,
            tickfont=dict(family=FONT, size=22, color="black"), fixedrange=True)

fig = go.Figure()
layout = dict(width=W, height=H, margin=dict(l=0, r=0, t=0, b=0),
              paper_bgcolor="white", plot_bgcolor="white", showlegend=False)

for r in range(7):
    for c in range(3):
        k = r * 3 + c + 1
        sx = "" if k == 1 else str(k)
        layout["xaxis" + sx] = dict(domain=[COL_PX[c][0] / W, COL_PX[c][1] / W], range=list(X_RANGE[c]),
                                    anchor="y" + sx, tickvals=X_TICKS, ticktext=X_TICK_TEXT,
                                    showticklabels=(r == 6), **AXIS)
        layout["yaxis" + sx] = dict(domain=[1 - ROW_PX[r][1] / H, 1 - ROW_PX[r][0] / H], range=list(Y_RANGE[r]),
                                    anchor="x" + sx, tickvals=Y_TICKS[r], ticktext=Y_TICK_TEXT[r],
                                    showticklabels=(c == 0), **AXIS)
        for n in HARMONICS:
            pts, vals, stat, sys = SERIES[c][n]
            yv, st, sy = vals[r], stat[r], sys[r]
            hw = BOX_HW[n]
            bx, by = [], []
            for x, y, s in zip(pts, yv, sy):
                bx += [x - hw, x + hw, x + hw, x - hw, x - hw, None]
                by += [y - s, y - s, y + s, y + s, y - s, None]
            fig.add_trace(go.Scatter(x=bx, y=by, mode="lines", line=dict(color=COLORS[n], width=1.4),
                                     xaxis="x" + sx, yaxis="y" + sx, hoverinfo="skip"))
            fig.add_trace(go.Scatter(x=pts, y=yv, mode="markers",
                                     marker=dict(symbol=SYMBOLS[n], size=SIZES[n], color=COLORS[n], line=dict(width=0)),
                                     error_y=dict(type="data", array=st, visible=True, color=COLORS[n], thickness=1.5, width=0),
                                     xaxis="x" + sx, yaxis="y" + sx, hoverinfo="skip"))

ann = []
shapes = []


def text(x, y, s, size, xanchor="left", yanchor="middle", angle=0, color="black", family=FONT):
    ann.append(dict(x=x / W, y=1 - y / H, xref="paper", yref="paper", text=s, showarrow=False,
                    xanchor=xanchor, yanchor=yanchor, textangle=angle,
                    font=dict(family=family, size=size, color=color)))


def hline(x0, x1, y, width=2):
    shapes.append(dict(type="line", xref="paper", yref="paper", x0=x0 / W, x1=x1 / W,
                       y0=1 - y / H, y1=1 - y / H, line=dict(color="black", width=width)))


for r in range(7):
    top = ROW_PX[r][0]
    text(117, top + 29, CENTRALITY[r], 27)
    text(113, top + 63, "π<sup>±</sup>", 27)
    text(471, top + 63, "K<sup>±</sup>", 27)
    text(851, top + 63, "p+p", 27)
    hline(884, 900, top + 50)

# header
text(471, 33, "ALICE Pb-Pb √s<sub>NN</sub>=2.76 TeV", 23)
hline(631, 665, 20, 1.5)

# legend
GLYPHS = {2: ("●", 13), 3: ("■", 13), 4: ("★", 16), 5: ("▲", 11)}
for i, n in enumerate(HARMONICS):
    yc = 76 + 37.3 * i
    g, gs = GLYPHS[n]
    text(745, yc, g, gs, xanchor="center", color=COLORS[n], family="DejaVu Sans")
    text(756, yc + 1, "<i>v</i>", 29)
    text(766, yc + 16, str(n), 18)
    text(775, yc - 10, "sub", 18)

# axis titles
text(640, 1523, "<i>p</i><sub>T</sub> (GeV/<i>c</i>)", 24, xanchor="center")
text(36, 770, "<i>v</i>", 26, xanchor="center", angle=-90)
text(44, 755, "n", 17, xanchor="center", angle=-90)
text(26, 748, "sub", 17, xanchor="center", angle=-90)

layout["annotations"] = ann
layout["shapes"] = shapes
fig.update_layout(**layout)
fig.write_html("out.html", config={"displayModeBar": False},
               post_script="document.body.style.margin='0px';")
